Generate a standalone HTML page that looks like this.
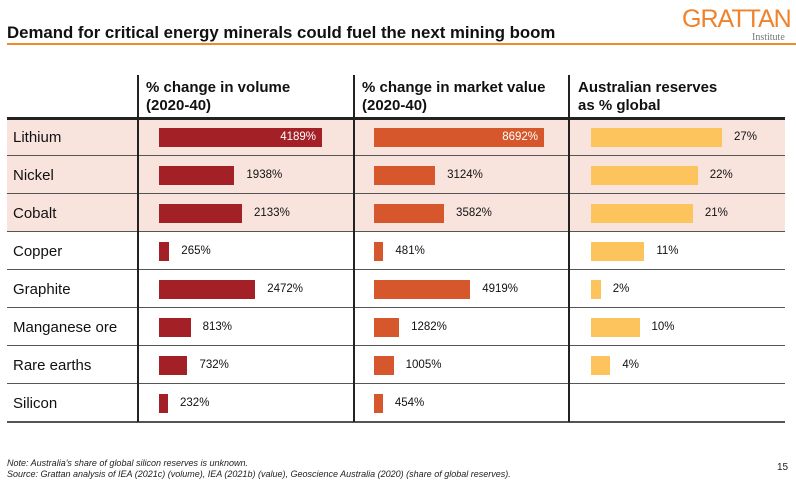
<!DOCTYPE html>
<html><head><meta charset="utf-8"><style>
body{margin:0;width:796px;height:483px;background:#fff;font-family:"Liberation Sans",Arial,sans-serif;position:relative;overflow:hidden}
.a{position:absolute}
.t{left:7px;top:23px;font-size:16.8px;font-weight:bold;color:#111}
.row{position:absolute;left:7px;width:778px;height:38px}
.lab{position:absolute;left:6px;font-size:15px;color:#111;line-height:40px}
.bar{position:absolute;height:19px;top:10px}
.v{position:absolute;font-size:11.5px;line-height:38px;color:#111}
</style></head><body>
<div class="a t">Demand for critical energy minerals could fuel the next mining boom</div>
<div class="a" style="left:7px;top:43px;width:789px;height:2px;background:#f08a30"></div>
<div class="a" style="left:682px;top:5px;font-size:25px;color:#f0822c;letter-spacing:-1px">GRATTAN</div>
<div class="a" style="left:752px;top:32px;font-size:10px;color:#777;font-family:'Liberation Serif',serif">Institute</div>

<div class="a" style="left:146px;top:79px;font-size:15px;font-weight:bold;line-height:18px;color:#111">% change in volume<br>(2020-40)</div>
<div class="a" style="left:362px;top:79px;font-size:15px;font-weight:bold;line-height:18px;color:#111">% change in market value<br>(2020-40)</div>
<div class="a" style="left:578px;top:79px;font-size:15px;font-weight:bold;line-height:18px;color:#111">Australian reserves<br>as % global</div>

<div id="rows"></div>
<script>
var d=[["Lithium",4189,8692,27,1],["Nickel",1938,3124,22,1],["Cobalt",2133,3582,21,1],["Copper",265,481,11,0],["Graphite",2472,4919,2,0],["Manganese ore",813,1282,10,0],["Rare earths",732,1005,4,0],["Silicon",232,454,null,0]];
var h="",y0=118;
d.forEach(function(r,i){
 var y=y0+i*38;
 h+='<div class="row" style="top:'+y+'px;background:'+(r[4]?'#f9e4dd':'#fff')+'">';
 h+='<div class="lab">'+r[0]+'</div>';
 var cols=[[152,163/4189,r[1],'#a32026'],[367,170/8692,r[2],'#d5572b'],[584,4.85,r[3],'#fdc35c']];
 cols.forEach(function(c,j){
  if(c[2]==null)return;
  var w=Math.max(c[1]*c[2],8);
  h+='<div class="bar" style="left:'+c[0]+'px;width:'+w+'px;background:'+c[3]+'"></div>';
  var txt=c[2]+'%';
  if(i==0&&j<2) h+='<div class="v" style="left:'+c[0]+'px;width:'+(w-6)+'px;text-align:right;color:#fff">'+txt+'</div>';
  else h+='<div class="v" style="left:'+(c[0]+w+12)+'px">'+txt+'</div>';
 });
 h+='</div>';
 h+='<div class="a" style="left:7px;top:'+(y+37)+'px;width:778px;height:1.5px;background:#555"></div>';
});
h+='<div class="a" style="left:7px;top:117px;width:778px;height:2.5px;background:#222"></div>';
[137,353,568].forEach(function(x){h+='<div class="a" style="left:'+x+'px;top:75px;width:1.5px;height:347px;background:#222"></div>';});
document.getElementById('rows').innerHTML=h;
</script>
<div class="a" style="left:7px;top:458px;font-size:9px;font-style:italic;color:#222;line-height:11px">Note: Australia's share of global silicon reserves is unknown.<br>Source: Grattan analysis of IEA (2021c) (volume), IEA (2021b) (value), Geoscience Australia (2020) (share of global reserves).</div>
<div class="a" style="left:777px;top:462px;font-size:10px;color:#222">15</div>
</body></html>
